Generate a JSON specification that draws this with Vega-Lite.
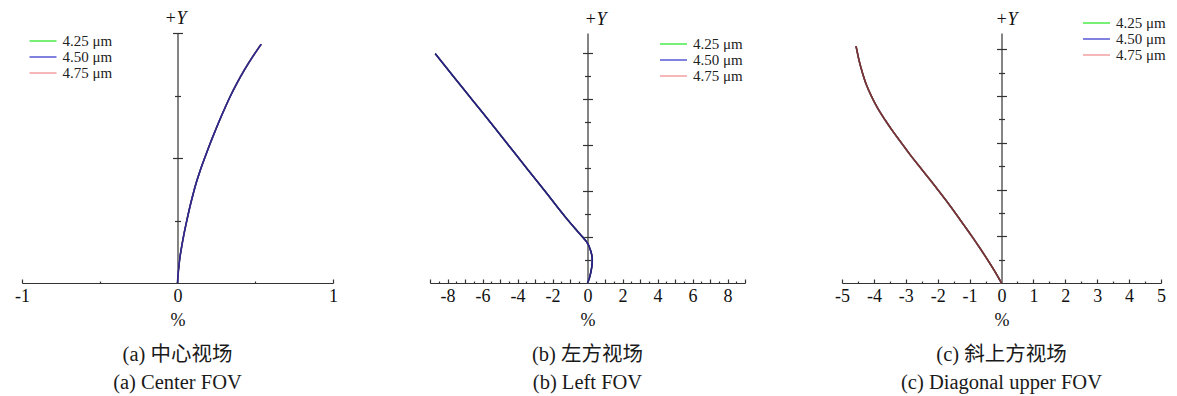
{
  "$schema": "https://vega.github.io/schema/vega-lite/v6.json",
  "background": "white",
  "padding": {"left": 14, "top": 10, "right": 5, "bottom": 5},
  "bounds": "flush",
  "spacing": 97,
  "resolve": {"scale": {"color": "independent"}, "legend": {"color": "independent"}},
  "config": {
    "view": {"stroke": null},
    "axis": {
      "grid": false,
      "domainColor": "#333333",
      "tickColor": "#333333",
      "domainWidth": 1.2,
      "tickWidth": 1.2,
      "labelFont": "Liberation Serif",
      "labelFontSize": 18,
      "labelColor": "#111111",
      "titleFont": "Liberation Serif",
      "titleFontSize": 18,
      "titleFontWeight": "normal",
      "titleColor": "#111111"
    },
    "legend": {
      "title": null,
      "orient": "none",
      "padding": 0,
      "symbolType": "M-4.5,0H4.5",
      "symbolSize": 36,
      "symbolStrokeWidth": 1.3,
      "labelFont": "Liberation Serif",
      "labelFontSize": 15,
      "labelColor": "#222222",
      "labelOffset": 12,
      "rowPadding": -1.5
    },
    "title": {
      "font": "Liberation Serif, Noto Sans CJK SC",
      "fontSize": 20.5,
      "fontWeight": "normal",
      "color": "#1a1a1a",
      "orient": "bottom",
      "anchor": "middle",
      "frame": "group",
      "lineHeight": 28,
      "offset": 16
    }
  },
  "datasets": {
    "center": [
      {"y": 0, "w425": 0, "w450": 0, "w475": 0},
      {"y": 0.05, "w425": 0.006, "w450": 0.006, "w475": 0.006},
      {"y": 0.1, "w425": 0.015, "w450": 0.015, "w475": 0.015},
      {"y": 0.15, "w425": 0.028, "w450": 0.028, "w475": 0.028},
      {"y": 0.2, "w425": 0.043, "w450": 0.043, "w475": 0.043},
      {"y": 0.25, "w425": 0.06, "w450": 0.06, "w475": 0.06},
      {"y": 0.3, "w425": 0.078, "w450": 0.078, "w475": 0.078},
      {"y": 0.35, "w425": 0.098, "w450": 0.098, "w475": 0.098},
      {"y": 0.4, "w425": 0.12, "w450": 0.12, "w475": 0.12},
      {"y": 0.45, "w425": 0.146, "w450": 0.146, "w475": 0.146},
      {"y": 0.5, "w425": 0.175, "w450": 0.175, "w475": 0.175},
      {"y": 0.55, "w425": 0.205, "w450": 0.205, "w475": 0.205},
      {"y": 0.6, "w425": 0.237, "w450": 0.237, "w475": 0.237},
      {"y": 0.65, "w425": 0.27, "w450": 0.27, "w475": 0.27},
      {"y": 0.7, "w425": 0.305, "w450": 0.305, "w475": 0.305},
      {"y": 0.75, "w425": 0.342, "w450": 0.342, "w475": 0.342},
      {"y": 0.8, "w425": 0.383, "w450": 0.383, "w475": 0.383},
      {"y": 0.85, "w425": 0.428, "w450": 0.428, "w475": 0.428},
      {"y": 0.9, "w425": 0.478, "w450": 0.478, "w475": 0.478},
      {"y": 0.955, "w425": 0.538, "w450": 0.538, "w475": 0.538}
    ],
    "left": [
      {"y": 0, "w425": 0, "w450": 0, "w475": 0},
      {"y": 0.2, "w425": 0.1, "w450": 0.1, "w475": 0.1},
      {"y": 0.4, "w425": 0.17, "w450": 0.17, "w475": 0.17},
      {"y": 0.6, "w425": 0.225, "w450": 0.225, "w475": 0.225},
      {"y": 0.85, "w425": 0.265, "w450": 0.265, "w475": 0.265},
      {"y": 1.05, "w425": 0.27, "w450": 0.27, "w475": 0.27},
      {"y": 1.25, "w425": 0.235, "w450": 0.235, "w475": 0.235},
      {"y": 1.4, "w425": 0.18, "w450": 0.18, "w475": 0.18},
      {"y": 1.55, "w425": 0.11, "w450": 0.11, "w475": 0.11},
      {"y": 1.7, "w425": 0.02, "w450": 0.02, "w475": 0.02},
      {"y": 1.8, "w425": -0.06, "w450": -0.06, "w475": -0.06},
      {"y": 1.93, "w425": -0.2, "w450": -0.2, "w475": -0.2},
      {"y": 2.1, "w425": -0.4, "w450": -0.4, "w475": -0.4},
      {"y": 2.3, "w425": -0.63, "w450": -0.63, "w475": -0.63},
      {"y": 2.6, "w425": -0.97, "w450": -0.97, "w475": -0.97},
      {"y": 2.94, "w425": -1.34, "w450": -1.34, "w475": -1.34},
      {"y": 3.4, "w425": -1.82, "w450": -1.82, "w475": -1.82},
      {"y": 3.94, "w425": -2.37, "w450": -2.37, "w475": -2.37},
      {"y": 4.9, "w425": -3.38, "w450": -3.38, "w475": -3.38},
      {"y": 5.94, "w425": -4.46, "w450": -4.46, "w475": -4.46},
      {"y": 7.0, "w425": -5.56, "w450": -5.56, "w475": -5.56},
      {"y": 7.94, "w425": -6.56, "w450": -6.56, "w475": -6.56},
      {"y": 9.0, "w425": -7.68, "w450": -7.68, "w475": -7.68},
      {"y": 9.97, "w425": -8.7, "w450": -8.7, "w475": -8.7}
    ],
    "diag": [
      {"y": 0, "w425": 0, "w450": 0, "w475": 0},
      {"y": 0.5, "w425": -0.21, "w450": -0.21, "w475": -0.21},
      {"y": 1, "w425": -0.44, "w450": -0.44, "w475": -0.44},
      {"y": 1.5, "w425": -0.68, "w450": -0.68, "w475": -0.68},
      {"y": 2, "w425": -0.93, "w450": -0.93, "w475": -0.93},
      {"y": 2.5, "w425": -1.19, "w450": -1.19, "w475": -1.19},
      {"y": 3, "w425": -1.45, "w450": -1.45, "w475": -1.45},
      {"y": 3.5, "w425": -1.72, "w450": -1.72, "w475": -1.72},
      {"y": 4, "w425": -2.0, "w450": -2.0, "w475": -2.0},
      {"y": 4.5, "w425": -2.29, "w450": -2.29, "w475": -2.29},
      {"y": 5, "w425": -2.58, "w450": -2.58, "w475": -2.58},
      {"y": 5.5, "w425": -2.87, "w450": -2.87, "w475": -2.87},
      {"y": 6, "w425": -3.14, "w450": -3.14, "w475": -3.14},
      {"y": 6.5, "w425": -3.41, "w450": -3.41, "w475": -3.41},
      {"y": 7, "w425": -3.66, "w450": -3.66, "w475": -3.66},
      {"y": 7.5, "w425": -3.89, "w450": -3.89, "w475": -3.89},
      {"y": 8, "w425": -4.08, "w450": -4.08, "w475": -4.08},
      {"y": 8.5, "w425": -4.24, "w450": -4.24, "w475": -4.24},
      {"y": 9, "w425": -4.36, "w450": -4.36, "w475": -4.36},
      {"y": 9.5, "w425": -4.46, "w450": -4.46, "w475": -4.46},
      {"y": 10.14, "w425": -4.56, "w450": -4.56, "w475": -4.56}
    ]
  },
  "hconcat": [
    {
      "width": 311,
      "height": 250,
      "title": {"text": ["(a) 中心视场", "(a) Center FOV"]},
      "resolve": {"scale": {"x": "independent", "y": "independent"}, "axis": {"x": "independent", "y": "independent"}},
      "layer": [
        {
          "data": {"name": "center"},
          "transform": [{"fold": ["w425", "w450", "w475"], "as": ["wl", "x"]}],
          "mark": {"type": "line", "strokeWidth": 1.6, "interpolate": "catmull-rom"},
          "encoding": {
            "x": {
              "field": "x", "type": "quantitative",
              "scale": {"domain": [-1, 1], "nice": false, "zero": false},
              "axis": {
                "orient": "bottom", "title": "%", "values": [-1, 0, 1], "ticks": false,
                "labelExpr": "'' + datum.value",
                "labelFlush": false, "labelOverlap": false,
                "labelPadding": 4, "titlePadding": 6
              }
            },
            "y": {
              "field": "y", "type": "quantitative",
              "scale": {"domain": [0, 1], "nice": false, "zero": true},
              "axis": {
                "orient": "left", "offset": -155.5, "title": null, "labels": false,
                "values": [0.25, 0.5, 0.75, 1],
                "tickSize": {"condition": {"test": "datum.value % 0.5 == 0", "value": 5}, "value": 3}
              }
            },
            "color": {
              "field": "wl", "type": "nominal",
              "scale": {"domain": ["w425", "w450", "w475"], "range": ["#2ee82e", "#3d3dd0", "#f09090"]},
              "legend": {
                "legendX": 13.5, "legendY": 0.5,
                "labelExpr": "datum.value == 'w425' ? '4.25 μm' : datum.value == 'w450' ? '4.50 μm' : '4.75 μm'"
              }
            },
            "order": {"field": "y", "type": "quantitative"}
          }
        },
        {
          "data": {"values": [{"t": "+Y"}]},
          "mark": {"type": "text", "font": "Liberation Serif", "fontSize": 18, "fontStyle": "italic", "baseline": "alphabetic", "align": "center", "dy": -9, "dx": -2, "color": "#111111"},
          "encoding": {
            "x": {
              "datum": 0, "type": "quantitative",
              "scale": {"domain": [-1, 1], "nice": false, "zero": false},
              "axis": {
                "orient": "top", "offset": -250, "title": null, "labels": false, "domain": false,
                "values": [-1, -0.5, 0.5, 1],
                "tickSize": {"condition": {"test": "abs(datum.value) == 1", "value": 4}, "value": 2}
              }
            },
            "y": {
              "datum": 1, "type": "quantitative",
              "scale": {"domain": [0, 1], "nice": false, "zero": true},
              "axis": {
                "orient": "right", "offset": -155.5, "title": null, "labels": false, "domain": false,
                "values": [0.25, 0.5, 0.75, 1],
                "tickSize": {"condition": {"test": "datum.value % 0.5 == 0", "value": 5}, "value": 3}
              }
            },
            "text": {"field": "t"}
          }
        },
        {
          "data": {"name": "center"},
          "transform": [{"fold": ["w425", "w450", "w475"], "as": ["wl", "x"]}],
          "mark": {"type": "line", "strokeWidth": 1.2, "interpolate": "catmull-rom", "stroke": "#30298c"},
          "encoding": {
            "x": {"field": "x", "type": "quantitative", "scale": {"domain": [-1, 1], "nice": false, "zero": false}, "axis": null},
            "y": {"field": "y", "type": "quantitative", "scale": {"domain": [0, 1], "nice": false, "zero": true}, "axis": null},
            "detail": {"field": "wl", "type": "nominal"},
            "order": {"field": "y", "type": "quantitative"}
          }
        }
      ]
    },
    {
      "width": 315,
      "height": 250,
      "title": {"text": ["(b) 左方视场", "(b) Left FOV"]},
      "resolve": {"scale": {"x": "independent", "y": "independent"}, "axis": {"x": "independent", "y": "independent"}},
      "layer": [
        {
          "data": {"name": "left"},
          "transform": [{"fold": ["w425", "w450", "w475"], "as": ["wl", "x"]}],
          "mark": {"type": "line", "strokeWidth": 1.6, "interpolate": "catmull-rom"},
          "encoding": {
            "x": {
              "field": "x", "type": "quantitative",
              "scale": {"domain": [-9, 9], "nice": false, "zero": false},
              "axis": {
                "orient": "bottom", "title": "%", "values": [-8, -6, -4, -2, 0, 2, 4, 6, 8], "ticks": false,
                "labelExpr": "'' + datum.value",
                "labelFlush": false, "labelOverlap": false,
                "labelPadding": 4, "titlePadding": 6
              }
            },
            "y": {
              "field": "y", "type": "quantitative",
              "scale": {"domain": [0, 10.87], "nice": false, "zero": true},
              "axis": {
                "orient": "left", "offset": -157.5, "title": null, "labels": false,
                "values": [1, 2, 3, 4, 5, 6, 7, 8, 9, 10],
                "tickSize": {"condition": {"test": "datum.value % 2 == 0", "value": 5}, "value": 3}
              }
            },
            "color": {
              "field": "wl", "type": "nominal",
              "scale": {"domain": ["w425", "w450", "w475"], "range": ["#2ee82e", "#3d3dd0", "#f09090"]},
              "legend": {
                "legendX": 236, "legendY": 3.5,
                "labelExpr": "datum.value == 'w425' ? '4.25 μm' : datum.value == 'w450' ? '4.50 μm' : '4.75 μm'"
              }
            },
            "order": {"field": "y", "type": "quantitative"}
          }
        },
        {
          "data": {"values": [{"t": "+Y"}]},
          "mark": {"type": "text", "font": "Liberation Serif", "fontSize": 18, "fontStyle": "italic", "baseline": "alphabetic", "align": "center", "dy": -8, "dx": 8, "color": "#111111"},
          "encoding": {
            "x": {
              "datum": 0, "type": "quantitative",
              "scale": {"domain": [-9, 9], "nice": false, "zero": false},
              "axis": {
                "orient": "top", "offset": -250, "title": null, "labels": false, "domain": false,
                "values": [-9, -8.5, -8, -7.5, -7, -6.5, -6, -5.5, -5, -4.5, -4, -3.5, -3, -2.5, -2, -1.5, -1, -0.5, 0.5, 1, 1.5, 2, 2.5, 3, 3.5, 4, 4.5, 5, 5.5, 6, 6.5, 7, 7.5, 8, 8.5, 9],
                "tickSize": {"condition": {"test": "datum.value % 1 == 0", "value": 4}, "value": 2}
              }
            },
            "y": {
              "datum": 10.87, "type": "quantitative",
              "scale": {"domain": [0, 10.87], "nice": false, "zero": true},
              "axis": {
                "orient": "right", "offset": -157.5, "title": null, "labels": false, "domain": false,
                "values": [1, 2, 3, 4, 5, 6, 7, 8, 9, 10],
                "tickSize": {"condition": {"test": "datum.value % 2 == 0", "value": 5}, "value": 3}
              }
            },
            "text": {"field": "t"}
          }
        },
        {
          "data": {"name": "left"},
          "transform": [{"fold": ["w425", "w450", "w475"], "as": ["wl", "x"]}],
          "mark": {"type": "line", "strokeWidth": 1.2, "interpolate": "catmull-rom", "stroke": "#23237f"},
          "encoding": {
            "x": {"field": "x", "type": "quantitative", "scale": {"domain": [-9, 9], "nice": false, "zero": false}, "axis": null},
            "y": {"field": "y", "type": "quantitative", "scale": {"domain": [0, 10.87], "nice": false, "zero": true}, "axis": null},
            "detail": {"field": "wl", "type": "nominal"},
            "order": {"field": "y", "type": "quantitative"}
          }
        }
      ]
    },
    {
      "width": 319,
      "height": 250,
      "title": {"text": ["(c) 斜上方视场", "(c) Diagonal upper FOV"]},
      "resolve": {"scale": {"x": "independent", "y": "independent"}, "axis": {"x": "independent", "y": "independent"}},
      "layer": [
        {
          "data": {"name": "diag"},
          "transform": [{"fold": ["w425", "w450", "w475"], "as": ["wl", "x"]}],
          "mark": {"type": "line", "strokeWidth": 1.6, "interpolate": "catmull-rom"},
          "encoding": {
            "x": {
              "field": "x", "type": "quantitative",
              "scale": {"domain": [-5, 5], "nice": false, "zero": false},
              "axis": {
                "orient": "bottom", "title": "%", "values": [-5, -4, -3, -2, -1, 0, 1, 2, 3, 4, 5], "ticks": false,
                "labelExpr": "'' + datum.value",
                "labelFlush": false, "labelOverlap": false,
                "labelPadding": 4, "titlePadding": 6
              }
            },
            "y": {
              "field": "y", "type": "quantitative",
              "scale": {"domain": [0, 10.7], "nice": false, "zero": true},
              "axis": {
                "orient": "left", "offset": -159.5, "title": null, "labels": false,
                "values": [1, 2, 3, 4, 5, 6, 7, 8, 9, 10],
                "tickSize": {"condition": {"test": "datum.value % 2 == 0", "value": 5}, "value": 3}
              }
            },
            "color": {
              "field": "wl", "type": "nominal",
              "scale": {"domain": ["w425", "w450", "w475"], "range": ["#2ee82e", "#3d3dd0", "#f09090"]},
              "legend": {
                "legendX": 247, "legendY": -17.5,
                "labelExpr": "datum.value == 'w425' ? '4.25 μm' : datum.value == 'w450' ? '4.50 μm' : '4.75 μm'"
              }
            },
            "order": {"field": "y", "type": "quantitative"}
          }
        },
        {
          "data": {"values": [{"t": "+Y"}]},
          "mark": {"type": "text", "font": "Liberation Serif", "fontSize": 18, "fontStyle": "italic", "baseline": "alphabetic", "align": "center", "dy": -8, "dx": 5, "color": "#111111"},
          "encoding": {
            "x": {
              "datum": 0, "type": "quantitative",
              "scale": {"domain": [-5, 5], "nice": false, "zero": false},
              "axis": {
                "orient": "top", "offset": -250, "title": null, "labels": false, "domain": false,
                "values": [-5, -4.5, -4, -3.5, -3, -2.5, -2, -1.5, -1, -0.5, 0.5, 1, 1.5, 2, 2.5, 3, 3.5, 4, 4.5, 5],
                "tickSize": {"condition": {"test": "datum.value % 1 == 0", "value": 4}, "value": 2}
              }
            },
            "y": {
              "datum": 10.7, "type": "quantitative",
              "scale": {"domain": [0, 10.7], "nice": false, "zero": true},
              "axis": {
                "orient": "right", "offset": -159.5, "title": null, "labels": false, "domain": false,
                "values": [1, 2, 3, 4, 5, 6, 7, 8, 9, 10],
                "tickSize": {"condition": {"test": "datum.value % 2 == 0", "value": 5}, "value": 3}
              }
            },
            "text": {"field": "t"}
          }
        },
        {
          "data": {"name": "diag"},
          "transform": [{"fold": ["w425", "w450", "w475"], "as": ["wl", "x"]}],
          "mark": {"type": "line", "strokeWidth": 1.2, "interpolate": "catmull-rom", "stroke": "#763436"},
          "encoding": {
            "x": {"field": "x", "type": "quantitative", "scale": {"domain": [-5, 5], "nice": false, "zero": false}, "axis": null},
            "y": {"field": "y", "type": "quantitative", "scale": {"domain": [0, 10.7], "nice": false, "zero": true}, "axis": null},
            "detail": {"field": "wl", "type": "nominal"},
            "order": {"field": "y", "type": "quantitative"}
          }
        }
      ]
    }
  ]
}
